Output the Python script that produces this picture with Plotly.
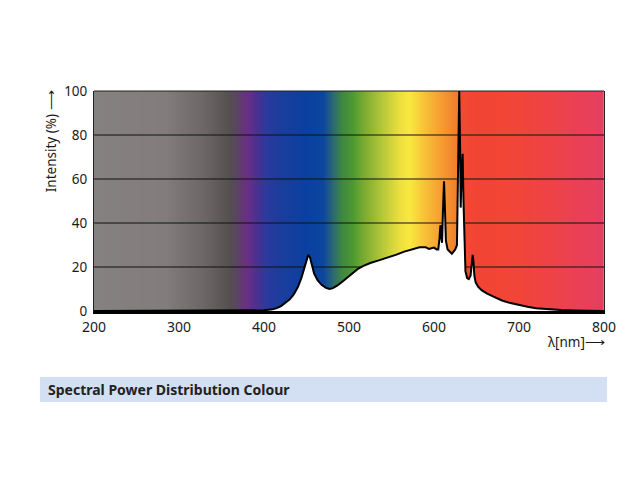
import numpy as np
import plotly.graph_objects as go

# spectral power distribution (nm, % intensity)
wavelength = [200, 380, 400, 410, 415, 420, 425, 430, 435, 440, 444, 447, 450, 452,
              454, 456, 459, 463, 468, 473, 477, 481, 486, 491, 497, 503, 510, 517,
              525, 535, 545, 555, 565, 575, 583, 590, 594, 597, 600, 603, 605, 606.5,
              607.5, 608.5, 609.5, 610.5, 611.8, 613, 614, 616, 619, 621, 623, 625,
              627, 628.5, 629.7, 630.7, 631.4, 632.5, 633.7, 634.7, 635.8, 637, 639,
              641, 643, 644.5, 645.5, 646.5, 647.5, 649, 652, 656, 662, 670, 680, 690,
              700, 710, 720, 730, 740, 750, 765, 780, 800]
intensity = [0, 0, 0.3, 0.8, 1.3, 2.2, 3.5, 5.2, 7.5, 11, 15, 19, 23, 25.5,
             24.5, 21, 17, 14, 11.8, 10.5, 10, 10.4, 11.5, 13, 15, 17, 19, 20.5,
             21.8, 23, 24.2, 25.5, 27, 28.3, 29, 29, 28.2, 28.5, 28.8, 28, 28, 33,
             39, 34, 31, 45, 59, 45, 32, 28, 26.5, 26, 27, 28,
             30, 60, 100, 75, 47, 62, 71.5, 50, 28, 18, 15,
             14.5, 16, 22, 25.5, 22, 16, 13, 11, 9.5, 8, 6.5, 4.8, 3.6,
             2.6, 1.9, 1.3, 0.9, 0.6, 0.4, 0.2, 0.1, 0]

# background colour band: wavelength stop -> colour
band_nm = [200, 285, 300, 330, 360, 368, 380, 392, 403, 420, 450, 470, 482, 492,
           505, 520, 540, 560, 572, 590, 610, 627, 629.5, 630, 650, 700, 740, 800]
band_colour = ["#858180", "#827d7c", "#7a7574", "#6c6766", "#555050", "#5a4560",
               "#6b2e85", "#4a3090", "#2b3a9c", "#1a3d9c", "#0a40a0", "#0c45a0",
               "#2c6a70", "#3e8640", "#4d9a32", "#80ad30", "#b6c83a", "#ecdf3e",
               "#f8e840", "#f8c038", "#f59a30", "#f07e2c", "#ef7a2c", "#f04c32",
               "#f24433", "#f04538", "#ee4248", "#e63e62"]

x_ticks = [200, 300, 400, 500, 600, 700, 800]
y_ticks = [0, 20, 40, 60, 80, 100]

FONT = "Noto Sans"
INK = "#1a1a1a"

fig = go.Figure()

# colour band as a heatmap, one column per half nm
band_x = np.arange(200, 800.5, 0.5)
scale = [[(nm - 200) / 600, c] for nm, c in zip(band_nm, band_colour)]
fig.add_trace(go.Heatmap(
    x=band_x, y=[0, 100], z=[band_x, band_x],
    zmin=200, zmax=800, colorscale=scale, showscale=False,
    hoverinfo="skip",
))

# grid lines sit on the colour band but under the white area
for g in y_ticks[1:-1]:
    fig.add_trace(go.Scatter(
        x=[x_ticks[0], x_ticks[-1]], y=[g, g], mode="lines",
        line=dict(color="#111111", width=1), hoverinfo="skip", showlegend=False,
    ))

# the spectrum itself, white underneath
fig.add_trace(go.Scatter(
    x=wavelength, y=intensity, mode="lines", fill="tozeroy",
    fillcolor="white", line=dict(color="black", width=2),
    showlegend=False,
))

fig.update_xaxes(
    range=[200, 800], tickvals=x_ticks, showgrid=False, zeroline=False,
    showline=True, linecolor="black", linewidth=3, ticks="",
    ticklabelstandoff=1,
    tickfont=dict(family=FONT, size=14, color=INK),
)
fig.update_yaxes(
    range=[0, 100], tickvals=y_ticks, showgrid=False, zeroline=False,
    showline=True, linecolor="#222222", linewidth=1, mirror=True, ticks="",
    ticklabelstandoff=3,
    tickfont=dict(family=FONT, size=13.5, color=INK),
)

# frame top
fig.add_shape(type="line", xref="x domain", yref="y domain", x0=0, x1=1, y0=1, y1=1,
              line=dict(color="#222222", width=1), layer="above")

fig.add_annotation(
    text="Intensity (%) ⟶", textangle=-90, xref="paper", yref="paper",
    x=-0.085, y=0.77, showarrow=False, xanchor="center", yanchor="middle",
    font=dict(family=FONT, size=13.5, color=INK),
)
fig.add_annotation(
    text="λ[nm]⟶", xref="paper", yref="paper", x=1.005, y=-0.143,
    showarrow=False, xanchor="right", yanchor="middle",
    font=dict(family=FONT, size=13.5, color=INK),
)

# caption bar below the chart
fig.add_shape(type="rect", xref="paper", yref="paper",
              x0=-0.106, x1=1.006, y0=-0.4136, y1=-0.3,
              fillcolor="#d3dff2", line=dict(width=0), layer="below")
fig.add_annotation(
    text="<b>Spectral Power Distribution Colour</b>", xref="paper", yref="paper",
    x=-0.094, y=-0.357, showarrow=False, xanchor="left", yanchor="middle",
    font=dict(family=FONT, size=14, color="#222222"),
)

# page body adds 8px, so margins are pulled in by that much
fig.update_layout(
    width=640, height=480,
    margin=dict(l=86, r=44, t=83, b=177),
    plot_bgcolor="white", paper_bgcolor="white",
    showlegend=False,
)

fig.write_html("out.html")
